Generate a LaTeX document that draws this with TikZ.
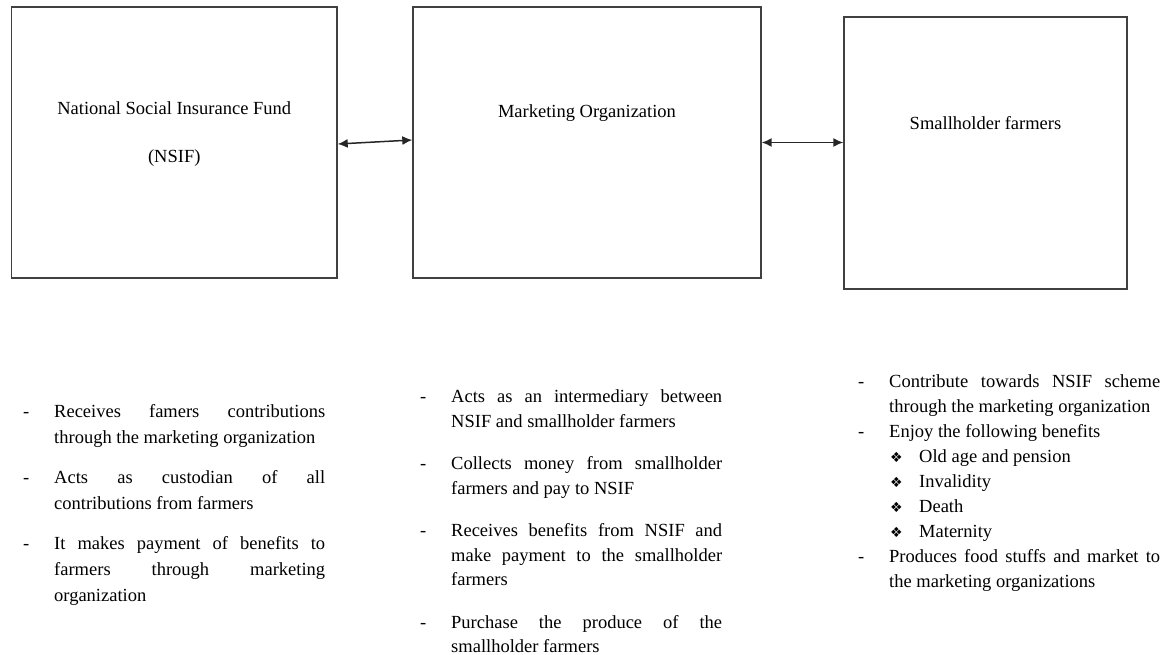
\documentclass[tikz,border=0pt]{standalone}
\usepackage{fontspec}
\setmainfont{Liberation Serif}
\newfontfamily\symfont{DejaVu Sans}
\usepackage{enumitem}
\usetikzlibrary{arrows.meta}
\hyphenpenalty=10000
\exhyphenpenalty=10000
\tolerance=10000
\newlist{roles}{itemize}{2}
\setlist[roles]{label=-, leftmargin=31pt, labelwidth=31pt, labelsep=0pt, align=left, topsep=0pt, partopsep=0pt, parsep=0pt}
\newlist{benefits}{itemize}{2}
\setlist[benefits]{label={\hspace*{1pt}\symfont\fontsize{14}{14}\selectfont ❖}, leftmargin=30pt, labelwidth=30pt, labelsep=0pt, align=left, topsep=0pt, partopsep=0pt, parsep=0pt, itemsep=0pt}
\tikzset{
  box/.style={draw=black!75, line width=1.4pt, inner sep=0pt},
  boxname/.style={font=\fontsize{18.5}{48}\selectfont, align=center, inner sep=0pt},
  duties/.style={anchor=north west, inner sep=0pt, text width=302pt, align=justify,
    font=\fontsize{18.5}{26}\selectfont},
  link/.style={draw=black!85, line width=1.5pt, {Latex[length=10pt,width=9pt]}-{Latex[length=10pt,width=9pt]}}
}
\begin{document}
\begin{tikzpicture}[x=1pt,y=-1pt]
    \useasboundingbox (0,0) rectangle (1161,655);
    % the three parties
    \node[box, minimum width=325.5, minimum height=271] (NSIF) at (174.25,142.5) {};
    \node[box, minimum width=348, minimum height=271] (MO) at (587,142.5) {};
    \node[box, minimum width=283, minimum height=272] (SF) at (985.5,153) {};
    \node[boxname] (NSIFname) at (174.25,134.5) {National Social Insurance Fund\\(NSIF)};
    \node[boxname] (MOname) at (587,113.5) {Marketing Organization};
    \node[boxname] (SFname) at (985.5,122.6) {Smallholder farmers};
    \draw [link] ([yshift=-1.5pt]NSIF.east) -- ([yshift=2.5pt]MO.west);
    \draw [link] (MO.east) -- (MO.east -| SF.west);
    % roles of each party
    \node[duties] (NSIFroles) at (23,391.5) {%
      \begin{roles}[itemsep=14pt]
        \item Receives famers contributions\linebreak through the marketing organization
        \item Acts as custodian of all\linebreak contributions from farmers
        \item It makes payment of benefits to\linebreak farmers through marketing\linebreak organization
      \end{roles}};
    \node[duties, font=\fontsize{18.5}{24.5}\selectfont] (MOroles) at (420,378) {%
      \begin{roles}[itemsep=18pt]
        \item Acts as an intermediary between\linebreak NSIF and smallholder farmers
        \item Collects money from smallholder\linebreak farmers and pay to NSIF
        \item Receives benefits from NSIF and\linebreak make payment to the smallholder\linebreak farmers
        \item Purchase the produce of the\linebreak smallholder farmers
      \end{roles}};
    \node[duties, font=\fontsize{18.5}{25}\selectfont] (SFroles) at (858,362.5) {%
      \begin{roles}[itemsep=0pt]
        \item Contribute towards NSIF scheme\linebreak through the marketing organization
        \item Enjoy the following benefits
          \begin{benefits}
            \item Old age and pension
            \item Invalidity
            \item Death
            \item Maternity
          \end{benefits}
        \item Produces food stuffs and market to\linebreak the marketing organizations
      \end{roles}};
\end{tikzpicture}
\end{document}
